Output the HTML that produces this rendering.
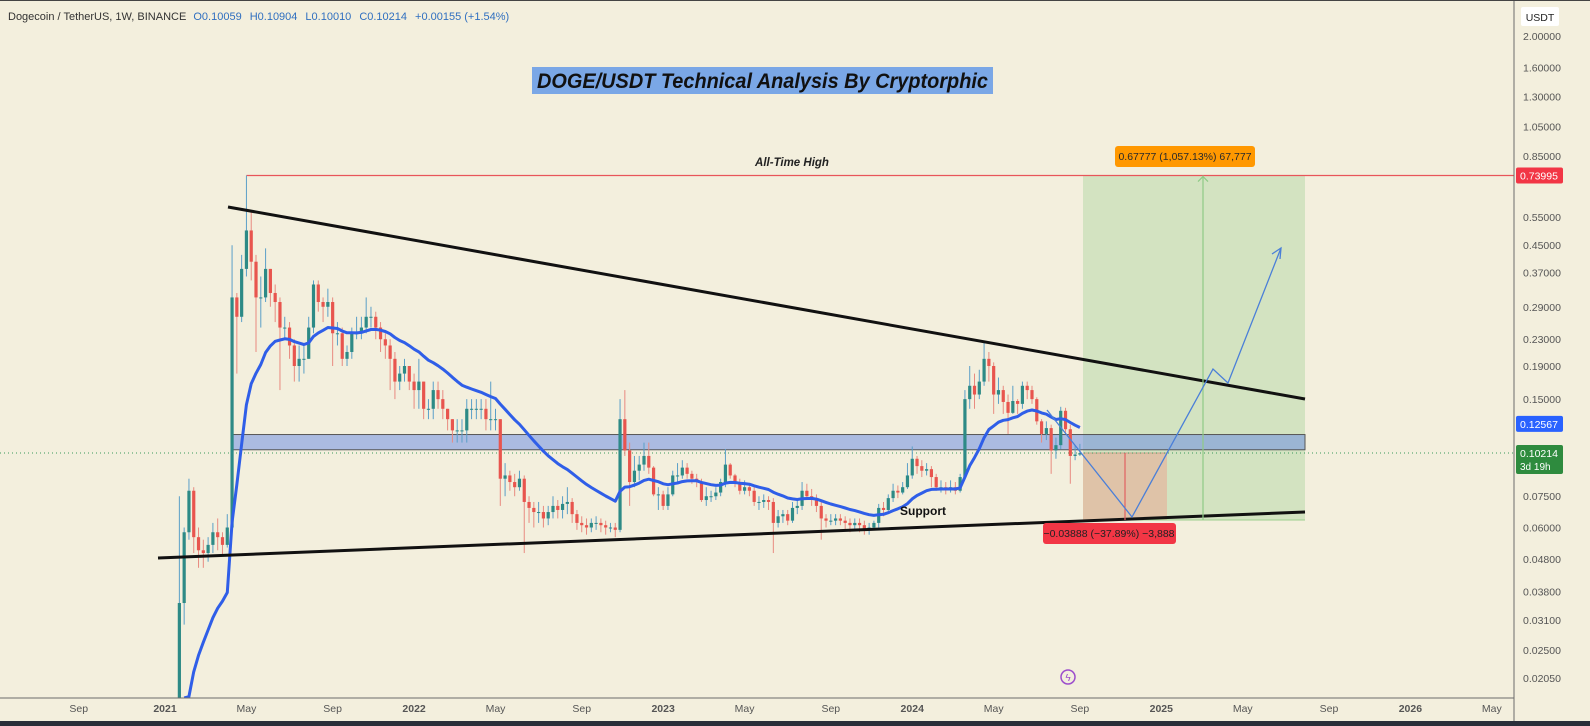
<!DOCTYPE html>
<html><head><meta charset="utf-8"><style>
html,body{margin:0;padding:0;background:#f3efdd;overflow:hidden;width:1590px;height:726px;}
svg{display:block;font-family:"Liberation Sans",sans-serif;}
</style></head><body>
<svg id="chart" width="1590" height="726" viewBox="0 0 1590 726">
<defs><clipPath id="pane"><rect x="0" y="0" width="1514" height="698"/></clipPath></defs>
<rect x="0" y="0" width="1590" height="726" fill="#f3efdd"/>
<g id="drawings" clip-path="url(#pane)"></g>
<g id="candles" clip-path="url(#pane)"></g>
<g id="overlay" clip-path="url(#pane)"></g>
<line x1="1514" y1="0" x2="1514" y2="721" stroke="#6b6b6b" stroke-width="1"/>
<line x1="0" y1="698" x2="1514" y2="698" stroke="#6b6b6b" stroke-width="1"/>
<rect x="0" y="721" width="1590" height="5" fill="#2a2e39"/>
<rect x="0" y="0" width="1590" height="1" fill="#444"/>
<g id="yaxis"></g>
<g id="xaxis"></g>
<text x="8" y="20" font-size="11" fill="#333">Dogecoin / TetherUS, 1W, BINANCE <tspan fill="#2f6fc0" dx="4">O0.10059</tspan><tspan fill="#2f6fc0" dx="8">H0.10904</tspan><tspan fill="#2f6fc0" dx="8">L0.10010</tspan><tspan fill="#2f6fc0" dx="8">C0.10214</tspan><tspan fill="#2f6fc0" dx="8">+0.00155 (+1.54%)</tspan></text>
<rect x="1521" y="7" width="38" height="19" rx="2" fill="#ffffff"/>
<text x="1540" y="21" font-size="10.5" fill="#222" text-anchor="middle">USDT</text>
<rect x="532" y="67" width="461" height="27" fill="#7aa7e6"/>
<text x="537" y="88" font-size="21" font-weight="bold" font-style="italic" fill="#111" textLength="451" lengthAdjust="spacingAndGlyphs">DOGE/USDT Technical Analysis By Cryptorphic</text>
</svg>
<script>
const warmCloses=[0.0027,0.0027,0.0026,0.0026,0.0026,0.0027,0.0026,0.0026,0.0026,0.0028,0.0030,0.0034,0.0033,0.0033,0.0031,0.0035,0.0046,0.0098,0.0086,0.0087];
const warmStart=-17;
const firstOpen=0.0087;
const closes=[0.035,0.058,0.078,0.056,0.051,0.050,0.053,0.058,0.056,0.053,0.060,
0.31,0.27,0.38,0.50,0.40,0.31,0.31,0.38,0.32,0.30,0.25,0.25,0.22,0.19,0.20,0.20,0.25,0.34,0.30,0.29,0.30,0.24,0.24,0.20,0.21,0.24,0.24,0.25,0.27,0.27,0.25,0.23,0.22,0.20,0.17,0.18,0.19,0.17,
0.16,0.17,0.14,0.14,0.16,0.15,0.14,0.13,0.12,0.12,0.12,0.14,0.14,0.14,0.14,0.13,0.13,0.13,0.085,0.087,0.083,0.080,0.085,0.072,0.069,0.067,0.067,0.064,0.067,0.070,0.068,0.071,0.072,0.066,0.062,0.061,0.060,0.062,0.062,0.061,0.060,0.060,0.059,0.130,0.104,0.083,0.090,0.094,0.100,0.092,0.076,0.076,
0.070,0.076,0.087,0.087,0.092,0.088,0.085,0.083,0.073,0.075,0.075,0.077,0.083,0.094,0.087,0.082,0.078,0.080,0.078,0.072,0.072,0.073,0.072,0.062,0.065,0.066,0.063,0.069,0.070,0.078,0.075,0.074,0.070,0.064,0.063,0.063,0.064,0.063,0.062,0.061,0.062,0.061,0.059,0.060,0.062,0.069,0.068,0.074,0.078,0.077,0.080,0.087,
0.098,0.093,0.090,0.091,0.086,0.080,0.080,0.079,0.080,0.078,0.086,0.150,0.165,0.155,0.170,0.200,0.190,0.155,0.160,0.147,0.136,0.148,0.145,0.165,0.160,0.150,0.128,0.117,0.122,0.104,0.108,0.138,0.121,0.100,0.101,0.102];
const highs=[0.075,0.060,0.085,0.080,0.060,0.055,0.056,0.062,0.064,0.058,0.066,
0.45,0.32,0.42,0.74,0.57,0.42,0.36,0.44,0.38,0.34,0.31,0.27,0.26,0.23,0.22,0.22,0.27,0.35,0.35,0.31,0.33,0.31,0.26,0.25,0.22,0.25,0.27,0.27,0.31,0.29,0.28,0.26,0.24,0.23,0.21,0.19,0.20,0.19,
0.18,0.20,0.17,0.15,0.17,0.17,0.16,0.14,0.13,0.13,0.13,0.15,0.15,0.15,0.15,0.15,0.17,0.14,0.13,0.095,0.090,0.088,0.090,0.087,0.075,0.072,0.072,0.070,0.070,0.075,0.073,0.075,0.080,0.074,0.068,0.065,0.064,0.064,0.065,0.064,0.063,0.062,0.062,0.15,0.16,0.11,0.10,0.10,0.11,0.11,0.093,0.080,
0.078,0.080,0.090,0.095,0.097,0.095,0.090,0.088,0.085,0.080,0.078,0.080,0.085,0.105,0.095,0.088,0.085,0.084,0.082,0.080,0.075,0.076,0.075,0.074,0.068,0.068,0.068,0.072,0.073,0.083,0.082,0.079,0.076,0.072,0.066,0.066,0.066,0.066,0.065,0.064,0.064,0.064,0.063,0.062,0.063,0.071,0.072,0.076,0.082,0.081,0.083,0.095,
0.107,0.100,0.097,0.095,0.093,0.088,0.084,0.083,0.084,0.083,0.088,0.16,0.19,0.18,0.185,0.228,0.21,0.195,0.175,0.165,0.155,0.165,0.15,0.17,0.17,0.165,0.152,0.13,0.128,0.125,0.114,0.142,0.141,0.125,0.108,0.109];
const lows=[0.0080,0.030,0.055,0.050,0.045,0.045,0.047,0.050,0.051,0.049,0.052,
0.06,0.18,0.26,0.36,0.35,0.21,0.25,0.30,0.29,0.26,0.16,0.23,0.20,0.17,0.17,0.18,0.20,0.24,0.28,0.26,0.27,0.19,0.22,0.19,0.19,0.20,0.23,0.23,0.24,0.25,0.23,0.21,0.20,0.16,0.15,0.16,0.17,0.16,
0.14,0.14,0.13,0.13,0.13,0.14,0.13,0.12,0.11,0.11,0.11,0.11,0.13,0.13,0.13,0.12,0.12,0.12,0.07,0.075,0.078,0.075,0.078,0.05,0.062,0.060,0.062,0.060,0.061,0.064,0.064,0.064,0.066,0.062,0.059,0.058,0.057,0.058,0.059,0.058,0.057,0.058,0.056,0.058,0.10,0.07,0.080,0.084,0.090,0.088,0.075,0.068,
0.068,0.068,0.075,0.082,0.085,0.085,0.082,0.080,0.072,0.070,0.072,0.073,0.075,0.080,0.085,0.080,0.076,0.076,0.075,0.070,0.068,0.069,0.068,0.050,0.060,0.062,0.061,0.062,0.066,0.068,0.073,0.070,0.067,0.055,0.060,0.061,0.061,0.061,0.059,0.058,0.059,0.058,0.057,0.057,0.059,0.060,0.065,0.067,0.072,0.074,0.076,0.079,
0.085,0.088,0.086,0.087,0.080,0.078,0.077,0.076,0.077,0.076,0.077,0.085,0.14,0.14,0.15,0.165,0.17,0.135,0.145,0.135,0.117,0.135,0.135,0.14,0.15,0.145,0.125,0.11,0.112,0.088,0.098,0.105,0.118,0.082,0.097,0.100];
const firstWeek=3;
const maPeriod=21;
const priceTicks=[2.0,1.6,1.3,1.05,0.85,0.55,0.45,0.37,0.29,0.23,0.19,0.15,0.075,0.06,0.048,0.038,0.031,0.025,0.0205];
const timeLabels=["Sep","2021","May","Sep","2022","May","Sep","2023","May","Sep","2024","May","Sep","2025","May","Sep","2026","May"];
const timeWeeks=[-18,0,17,35,52,69,87,104,121,139,156,173,191,208,225,243,260,277];
const athPrice=0.73995, maLast=0.12567, lastPrice=0.10214;
const zoneTop=0.1165, zoneBottom=0.1045;
const targetPrice=0.73995, stopPrice=0.0633;

const NS="http://www.w3.org/2000/svg";
const PANE_BOTTOM=698;
function X(w){return 165+w*4.79;}
function Y(p){return 527.5-140.1*Math.log(p/0.06);}
function YC(p){return Math.min(PANE_BOTTOM,Y(p));}
function mk(tag,attrs,parent){const e=document.createElementNS(NS,tag);for(const k in attrs)e.setAttribute(k,attrs[k]);parent.appendChild(e);return e;}
const D=document.getElementById('drawings'),C=document.getElementById('candles'),O=document.getElementById('overlay');
const YA=document.getElementById('yaxis'),XA=document.getElementById('xaxis');

priceTicks.forEach(p=>{
  const t=mk('text',{x:1523,y:Y(p)+4,'font-size':10.5,fill:'#555'},YA);
  
  
  t.textContent=p.toFixed(5);
});
timeLabels.forEach((s,k)=>{
  const t=mk('text',{x:X(timeWeeks[k]),y:712,'font-size':10.5,fill:'#555','text-anchor':'middle','font-weight':/^\d/.test(s)?'bold':'normal'},XA);
  
  
  t.textContent=s;
});

const gx0=1083,gx1=1305,ex=1167;
const yT=Y(targetPrice),yE=Y(lastPrice),yS=Y(stopPrice);
let r=mk('rect',{x:gx0,y:yT,width:gx1-gx0,height:yS-yT,fill:'#d3e3c1'},D);


r=mk('rect',{x:gx0,y:yE,width:ex-gx0,height:yS-yE,fill:'#dfc3a8'},D);


let l=mk('line',{x1:gx0,y1:yS,x2:gx1,y2:yS,stroke:'#9ccf8e','stroke-width':1},D);


l=mk('line',{x1:gx0,y1:yE,x2:ex,y2:yE,stroke:'#c9a08a','stroke-width':1},D);


r=mk('rect',{x:232,y:Y(zoneTop),width:gx1-232,height:Y(zoneBottom)-Y(zoneTop),fill:'rgba(100,135,230,0.5)',stroke:'#555','stroke-width':1},D);


l=mk('line',{x1:0,y1:Y(lastPrice),x2:1514,y2:Y(lastPrice),stroke:'#3a9a5a','stroke-width':1,'stroke-dasharray':'1 3'},D);


l=mk('line',{x1:X(17),y1:Y(athPrice),x2:1514,y2:Y(athPrice),stroke:'#e8555a','stroke-width':1.2},D);



const allC=warmCloses.concat(closes);
function drawCandle(w,o,h,lo,c){
  const up=c>=o, x=X(w);
  const hh=Math.max(h,o,c), ll=Math.min(lo,o,c);
  if(Y(hh)>=PANE_BOTTOM) return;
  const wk=mk('line',{x1:x,y1:YC(hh),x2:x,y2:YC(ll),stroke:up?'#5a9fc8':'#e88a80','stroke-width':1},C);
  
  
  const yt=YC(Math.max(o,c)), yb=YC(Math.min(o,c));
  const b=mk('rect',{x:x-1.6,y:yt,width:3.2,height:Math.max(1,yb-yt),fill:up?'#2d8a86':'#e8554e'},C);
  
  
}
warmCloses.forEach((c,k)=>{const o=k?warmCloses[k-1]:c;drawCandle(warmStart+k,o,Math.max(o,c),Math.min(o,c),c);});
closes.forEach((c,k)=>{const o=k?closes[k-1]:firstOpen;drawCandle(firstWeek+k,o,highs[k],lows[k],c);});

// EMA
let pts=[];
const alpha=2/(maPeriod+1);
let ema=allC[0];
for(let k=0;k<allC.length;k++){
  ema=k?alpha*allC[k]+(1-alpha)*ema:allC[0];
  if(Y(ema)<PANE_BOTTOM+2 || (k+1<allC.length && pts.length===0 && Y(alpha*allC[k+1]+(1-alpha)*ema)<PANE_BOTTOM)){
    pts.push(X(warmStart+k).toFixed(1)+','+YC(ema).toFixed(1));
  }
}
let pl=mk('polyline',{points:pts.join(' '),fill:'none',stroke:'#2f5ee8','stroke-width':3,'stroke-linejoin':'round'},O);



l=mk('line',{x1:228,y1:207,x2:1305,y2:399,stroke:'#111','stroke-width':3},O);


l=mk('line',{x1:158,y1:558,x2:1305,y2:512,stroke:'#111','stroke-width':3},O);



l=mk('line',{x1:1203,y1:yT,x2:1203,y2:yS,stroke:'#8fca86','stroke-width':1.2},O);


pl=mk('polyline',{points:`1198,${yT+6} 1203,${yT+1} 1208,${yT+6}`,fill:'none',stroke:'#8fca86','stroke-width':1.2},O);


l=mk('line',{x1:1125,y1:yE,x2:1125,y2:yS,stroke:'#e06060','stroke-width':1.2},O);


pl=mk('polyline',{points:'1047,410 1132,517 1213,369 1228,383 1281,248',fill:'none',stroke:'#4a7fd8','stroke-width':1.3},O);


pl=mk('polyline',{points:'1272,254 1281,248 1280,259',fill:'none',stroke:'#4a7fd8','stroke-width':1.3},O);



let t=mk('text',{x:792,y:166,'font-size':11.5,'font-style':'italic','font-weight':'bold',fill:'#222','text-anchor':'middle'},O);


t.textContent='All-Time High';
t=mk('text',{x:923,y:515,'font-size':12,'font-weight':'bold',fill:'#111','text-anchor':'middle'},O);


t.textContent='Support';
r=mk('rect',{x:1115,y:146,width:140,height:21,rx:3,fill:'#ff9800'},O);


t=mk('text',{x:1185,y:160,'font-size':10.5,fill:'#2a2a2a','text-anchor':'middle'},O);


t.textContent='0.67777 (1,057.13%) 67,777';
r=mk('rect',{x:1043,y:523,width:133,height:21,rx:3,fill:'#f23645'},O);


t=mk('text',{x:1109,y:537,'font-size':10.5,fill:'#222','text-anchor':'middle'},O);


t.textContent='\u22120.03888 (\u221237.89%) \u22123,888';
let c=mk('circle',{cx:1068,cy:677,r:7,fill:'none',stroke:'#9c4dcc','stroke-width':1.5},O);


t=mk('text',{x:1068,y:681,'font-size':10,fill:'#9c4dcc','text-anchor':'middle'},O);


t.textContent='\u03DF';

function badge(p,bg,label,name,h){
  const y=Y(p);
  const b=mk('rect',{x:1516,y:y-8,width:47,height:h,rx:2,fill:bg},YA);
  
  
  const tx=mk('text',{x:1520,y:y+4,'font-size':10.5,fill:'#fff'},YA);
  
  
  tx.textContent=label;
  return y;
}
badge(athPrice,'#f23645','0.73995','ath-price-badge',16);
badge(maLast,'#2962ff','0.12567','ma-price-badge',16);
const yl=badge(lastPrice,'#2e8b3e','0.10214','last-price-badge',29);
t=mk('text',{x:1520,y:yl+17,'font-size':10,fill:'#fff'},YA);


t.textContent='3d 19h';
</script>
</body></html>
